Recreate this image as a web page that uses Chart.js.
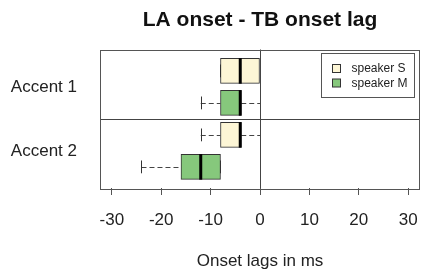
<!DOCTYPE html>
<html lang="en">
<head>
  <meta charset="UTF-8">
  <title>LA onset - TB onset lag</title>
  <script src="https://cdn.jsdelivr.net/npm/chart.js"></script>
  <style>
    html, body {
      margin: 0;
      padding: 0;
      background-color: #ffffff;
    }
    .chart-container {
      position: relative;
      width: 422px;
      height: 273px;
    }
  </style>
</head>
<body>
  <div class="chart-container">
    <canvas id="lag-chart"></canvas>
  </div>

  <script>
    // data
    const chartTitle = 'LA onset - TB onset lag';
    const groups = ['Accent 1', 'Accent 2'];
    const speakers = ['speaker S', 'speaker M'];
    const xTicks = [-30, -20, -10, 0, 10, 20, 30];
    // [min, q1, median, q3, max] per group
    const speakerS = [[-8, -8, -4, 0, 0], [-12, -8, -4, -3.8, 0]];
    const speakerM = [[-12, -8, -4, -3.8, 0], [-24, -16, -12, -8, -8]];

    const fills = ['#fdf6d6', '#86c87c'];
    const fontFamily = '"Liberation Sans", Arial, sans-serif';
    const textColor = '#222222';
    const lineColor = '#444444';

    // box row: group g, speaker s -> 1..4 from top
    const rowOf = (g, s) => g * 2 + s + 1;
    const summaries = [speakerS, speakerM];

    const datasets = summaries.map((series, s) => ({
      label: speakers[s],
      data: series.map((b, g) => ({ x: [b[1], b[3]], y: rowOf(g, s) })),
      backgroundColor: fills[s],
      borderColor: '#333333',
      borderWidth: 1,
      borderSkipped: false,
      barThickness: 25,
      grouped: false
    }));

    // whiskers, medians, reference lines, frame, legend and title
    const boxExtras = {
      id: 'boxExtras',
      afterDatasetsDraw(chart) {
        const { ctx, chartArea: a, scales: { x, y } } = chart;
        ctx.save();

        summaries.forEach((series, s) => {
          series.forEach((b, g) => {
            const row = rowOf(g, s);
            const cy = Math.round(y.getPixelForValue(row)) + 0.5;
            const capTop = y.getPixelForValue(row - 0.2);
            const capBot = y.getPixelForValue(row + 0.2);

            // dashed whiskers
            ctx.strokeStyle = lineColor;
            ctx.lineWidth = 1;
            ctx.setLineDash([5, 3]);
            ctx.beginPath();
            ctx.moveTo(x.getPixelForValue(b[0]), cy);
            ctx.lineTo(x.getPixelForValue(b[1]), cy);
            ctx.moveTo(x.getPixelForValue(b[3]), cy);
            ctx.lineTo(x.getPixelForValue(b[4]), cy);
            ctx.stroke();
            ctx.setLineDash([]);

            // staples
            ctx.strokeStyle = '#333333';
            ctx.beginPath();
            [b[0], b[4]].forEach(v => {
              const px = Math.round(x.getPixelForValue(v)) + 0.5;
              ctx.moveTo(px, capTop);
              ctx.lineTo(px, capBot);
            });
            ctx.stroke();

            // median
            ctx.strokeStyle = '#000000';
            ctx.lineWidth = 3;
            ctx.beginPath();
            const mx = x.getPixelForValue(b[2]);
            ctx.moveTo(mx, y.getPixelForValue(row - 0.4));
            ctx.lineTo(mx, y.getPixelForValue(row + 0.4));
            ctx.stroke();
          });
        });

        // group separator and zero line
        ctx.strokeStyle = lineColor;
        ctx.lineWidth = 1;
        ctx.beginPath();
        const sy = Math.round(y.getPixelForValue(2.5)) + 0.5;
        ctx.moveTo(a.left, sy);
        ctx.lineTo(a.right, sy);
        const zx = Math.round(x.getPixelForValue(0)) + 0.5;
        ctx.moveTo(zx, a.top);
        ctx.lineTo(zx, a.bottom);
        ctx.stroke();

        // frame
        ctx.strokeStyle = '#555555';
        ctx.strokeRect(Math.round(a.left) + 0.5, Math.round(a.top) + 0.5,
          Math.round(a.right - a.left) - 1, Math.round(a.bottom - a.top));

        // legend inside plot, top right
        const lx = Math.round(a.right) - 98.5;
        const ly = Math.round(a.top) + 3.5;
        ctx.strokeStyle = '#555555';
        ctx.fillStyle = '#ffffff';
        ctx.fillRect(lx, ly, 93, 44);
        ctx.strokeRect(lx, ly, 93, 44);
        ctx.font = '12px ' + fontFamily;
        ctx.textBaseline = 'middle';
        speakers.forEach((name, i) => {
          const ey = ly + 15 + i * 14.5;
          ctx.fillStyle = fills[i];
          ctx.fillRect(lx + 11, ey - 4, 8, 8);
          ctx.strokeStyle = '#333333';
          ctx.strokeRect(lx + 11, ey - 4, 8, 8);
          ctx.fillStyle = textColor;
          ctx.fillText(name, lx + 30, ey + 0.5);
        });

        // title centred over the plot region
        ctx.fillStyle = '#111111';
        ctx.font = 'bold 21px ' + fontFamily;
        ctx.textAlign = 'center';
        ctx.textBaseline = 'middle';
        ctx.fillText(chartTitle, (a.left + a.right) / 2, 20);

        ctx.restore();
      }
    };

    new Chart(document.getElementById('lag-chart'), {
      type: 'bar',
      data: { datasets: datasets },
      plugins: [boxExtras],
      options: {
        indexAxis: 'y',
        responsive: true,
        maintainAspectRatio: false,
        animation: false,
        layout: { padding: { left: 0, right: 2, top: 49.5, bottom: 0 } },
        plugins: {
          legend: { display: false },
          tooltip: { enabled: false },
          title: { display: false }
        },
        scales: {
          x: {
            type: 'linear',
            position: 'bottom',
            min: -32.4,
            max: 32.4,
            afterBuildTicks: s => { s.ticks = xTicks.map(v => ({ value: v })); },
            afterFit: s => {
              s.height = 85;
              s.paddingLeft = 0;
              s.paddingRight = 0;
            },
            ticks: {
              color: textColor,
              font: { family: fontFamily, size: 17 },
              padding: 15,
              maxRotation: 0
            },
            grid: { drawOnChartArea: false, tickLength: 7, color: '#555555' },
            border: { display: false },
            title: {
              display: true,
              text: 'Onset lags in ms',
              color: textColor,
              font: { family: fontFamily, size: 17 },
              padding: { top: 0, bottom: 1 }
            }
          },
          y: {
            type: 'linear',
            reverse: true,
            offset: false,
            min: 0.33,
            max: 4.66,
            afterBuildTicks: s => { s.ticks = groups.map((g, i) => ({ value: i * 2 + 1.5 })); },
            afterFit: s => {
              s.width = 100;
              s.paddingTop = 0;
              s.paddingBottom = 0;
            },
            ticks: {
              callback: (v, i) => groups[i],
              color: textColor,
              font: { family: fontFamily, size: 17 },
              padding: 23
            },
            grid: { display: false, drawTicks: false, offset: false },
            border: { display: false }
          }
        }
      }
    });
  </script>
</body>
</html>
